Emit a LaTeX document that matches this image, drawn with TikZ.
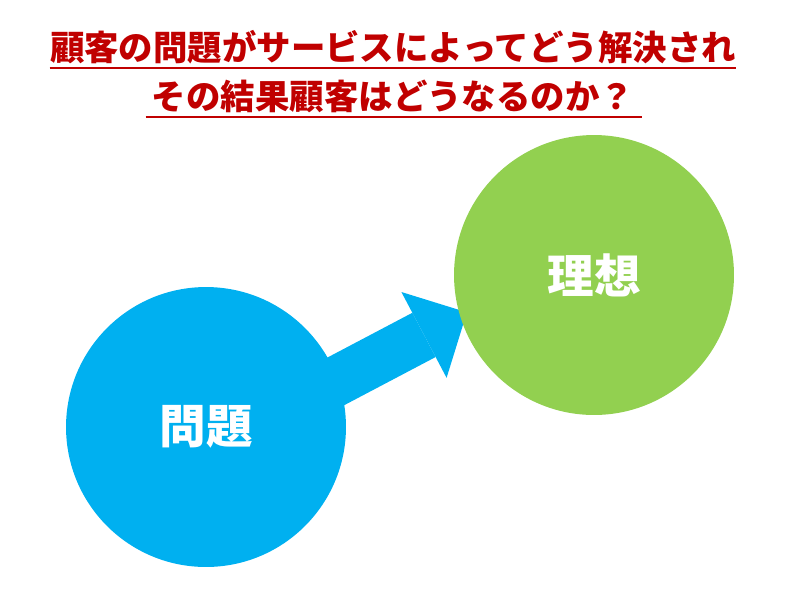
\documentclass[tikz,border=0pt]{standalone}
\usepackage{fontspec}
\newfontfamily\jpfont{Noto Sans CJK JP}
\usepackage{tikz}
\usetikzlibrary{arrows.meta}
\usetikzlibrary{backgrounds}

\definecolor{TitleRed}{HTML}{C00000}
\definecolor{ProblemBlue}{HTML}{00B0F0}
\definecolor{IdealGreen}{HTML}{92D050}

\begin{document}
\begin{tikzpicture}[x=0.02cm, y=-0.02cm,
  titleline/.style={anchor=base, inner sep=0pt, text depth=0.15cm, text=TitleRed,
    font=\jpfont\bfseries\fontsize{19.6pt}{24pt}\selectfont},
  underline/.style={draw=TitleRed, line width=0.04cm},
  bubble/.style={circle, minimum size=\CircDiam cm, inner sep=0pt, text=white,
    font=\jpfont\bfseries\fontsize{26.5pt}{30pt}\selectfont},
  bigarrow/.style={draw=ProblemBlue, line width=1cm, shorten >=-0.16cm,
    -{Triangle[length=0.97cm, width=1.94cm, line width=0pt]}}]
  \pgfmathsetmacro{\CircDiam}{5.6}
  \useasboundingbox (0,0) rectangle (800,600);

  \node[titleline] (line1) at (393,60.6) {顧客の問題がサービスによってどう解決され};
  \node[titleline] (line2) at (393,109.6) {その結果顧客はどうなるのか？};
  \draw[underline] (line1.south west) -- (line1.south east);
  \draw[underline] ([xshift=-0.12cm]line2.south west) -- ([xshift=0.16cm]line2.south east);

  \node[bubble, fill=ProblemBlue] (problem) at (206,427) {問題};
  \node[bubble, fill=IdealGreen] (ideal) at (594,275) {理想};
  \coordinate (tail) at ([shift={(9,18)}]problem.center);
  \begin{scope}[on background layer]
    \draw[bigarrow] (tail) -- (ideal.197);
  \end{scope}
\end{tikzpicture}
\end{document}
